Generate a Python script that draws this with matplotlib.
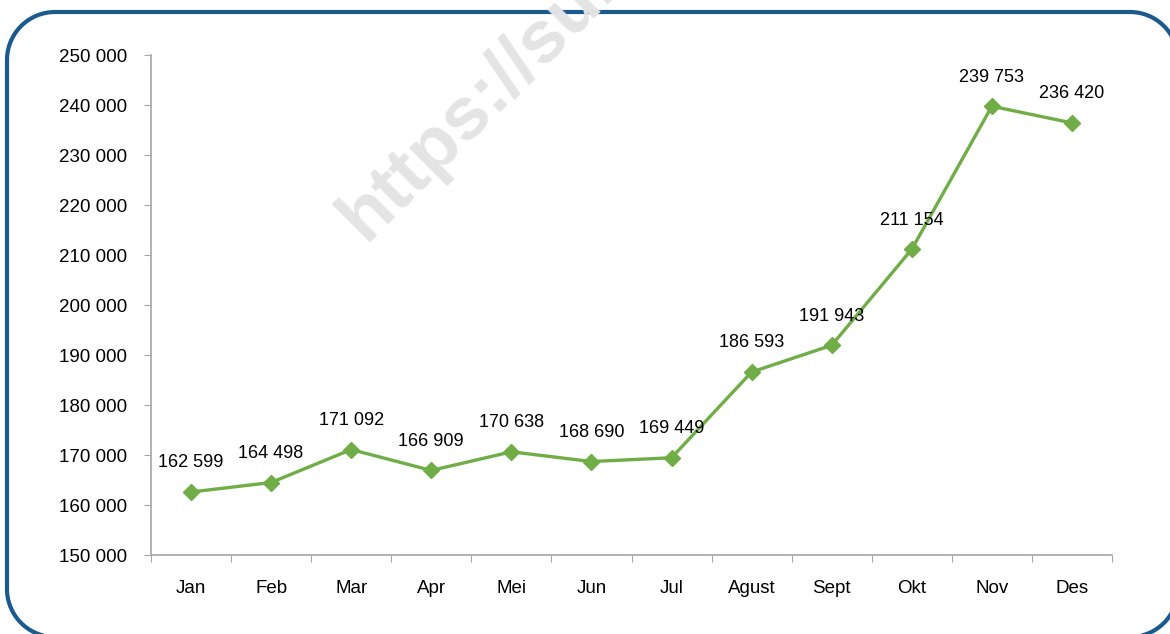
import matplotlib
matplotlib.use('Agg')
import matplotlib.pyplot as plt
import numpy as np

months = ['Jan', 'Feb', 'Mar', 'Apr', 'Mei', 'Jun', 'Jul', 'Agust', 'Sept', 'Okt', 'Nov', 'Des']
values = [162599, 164498, 171092, 166909, 170638, 168690, 169449, 186593, 191943, 211154, 239753, 236420]
yticks = list(range(150000, 250001, 10000))

def fmt(v):
    return '{:,}'.format(v).replace(',', ' ')

def rounded_rect(x0, y0, x1, y1, r, n=30):
    # outline of a rectangle with round corners, in pixel coordinates
    pts = []
    corners = [(x1 - r, y1 - r, 0), (x0 + r, y1 - r, 90), (x0 + r, y0 + r, 180), (x1 - r, y0 + r, 270)]
    for cx, cy, a0 in corners:
        t = np.radians(np.linspace(a0, a0 + 90, n))
        pts += list(zip(cx + r * np.cos(t), cy + r * np.sin(t)))
    pts.append(pts[0])
    return np.array(pts)

plt.rcParams['font.family'] = ['Liberation Sans', 'DejaVu Sans']

W, H = 1170, 634
fig = plt.figure(figsize=(W / 100, H / 100), dpi=100)

# background layer in pixel coordinates (origin bottom-left): border and watermark
bg = fig.add_axes([0, 0, 1, 1], zorder=0)
bg.set_xlim(0, W)
bg.set_ylim(0, H)
bg.axis('off')
outline = rounded_rect(7, H - 637, 1178, H - 12, 48)
bg.plot(outline[:, 0], outline[:, 1], color='#1b5a8e', linewidth=3.0, clip_on=False,
        solid_joinstyle='round')
bg.text(365, H - 242, 'https://sum', rotation=45, fontsize=54, fontweight='bold',
        color='#e4e4e4', ha='left', va='baseline', rotation_mode='anchor')

ax = fig.add_axes([151 / W, 79 / H, 961 / W, 500 / H], zorder=1)
ax.patch.set_alpha(0)

x = np.arange(len(months))
ax.plot(x, values, color='#70ad47', linewidth=2.4, marker='D', markersize=8, zorder=3)
for xi, v in zip(x, values):
    ax.annotate(fmt(v), (xi, v), xytext=(0, 21), textcoords='offset points',
                ha='center', va='center', fontsize=13, color='black')

ax.set_xlim(-0.5, len(months) - 0.5)
ax.set_ylim(150000, 250000)
ax.set_yticks(yticks)
ax.set_yticklabels([fmt(t) for t in yticks], fontsize=13.5)
ax.set_xticks(np.arange(-0.5, len(months), 1))
ax.set_xticklabels([])
ax.set_xticks(x, minor=True)
ax.set_xticklabels(months, minor=True, fontsize=13.5)
ax.tick_params(axis='x', which='major', length=5, color='#a6a6a6', direction='out')
ax.tick_params(axis='x', which='minor', length=0, pad=18)
ax.tick_params(axis='y', length=5, color='#a6a6a6', pad=12)

for s in ['top', 'right']:
    ax.spines[s].set_visible(False)
for s in ['left', 'bottom']:
    ax.spines[s].set_color('#a6a6a6')
    ax.spines[s].set_linewidth(1.2)

fig.savefig('out.png', dpi=100)
